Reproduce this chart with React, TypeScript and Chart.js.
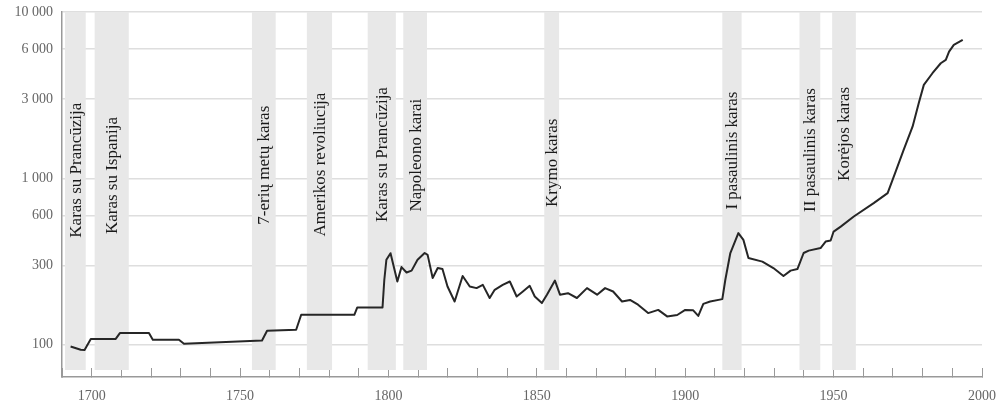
import React, { useEffect, useRef } from 'react';
import { Chart, registerables } from 'chart.js';

Chart.register(...registerables);

// ---- data ----
const years = [
  1692.9, 1696.3, 1697.6, 1699.7, 1708.1, 1709.5, 1719.3, 1720.6, 1729.4, 1731.1,
  1757.4, 1759.1, 1768.9, 1770.6, 1788.5, 1789.5, 1798.0, 1798.6, 1799.3, 1800.7,
  1803.0, 1804.4, 1806.1, 1807.8, 1809.8, 1812.2, 1813.2, 1814.9, 1816.6, 1818.2,
  1819.9, 1822.3, 1825.0, 1827.4, 1829.7, 1831.8, 1834.1, 1835.8, 1838.5, 1840.9,
  1843.2, 1845.3, 1847.6, 1849.3, 1851.7, 1853.4, 1856.1, 1857.8, 1860.5, 1863.5,
  1866.9, 1870.3, 1873.0, 1875.7, 1878.7, 1881.4, 1884.1, 1887.5, 1890.9, 1893.9,
  1897.3, 1900.0, 1902.7, 1904.4, 1906.1, 1908.4, 1912.5, 1913.5, 1915.2, 1917.9,
  1919.6, 1921.3, 1926.0, 1929.7, 1933.1, 1935.5, 1937.8, 1939.9, 1941.6, 1945.6,
  1947.3, 1949.0, 1950.0, 1952.4, 1956.8, 1963.5, 1968.2, 1970.9, 1973.6, 1976.6,
  1978.7, 1980.4, 1983.3, 1986.1, 1987.8, 1988.9, 1990.5, 1993.5,
];
const values = [
  97.7, 93.3, 93, 108.2, 108.4, 117.5, 117.8, 107.2, 107.2, 101.4,
  106.1, 121.3, 123, 151.4, 151.4, 167.5, 167.5, 245, 324, 355,
  240, 293, 272, 279, 324, 356, 347, 252, 289, 285,
  224, 182, 259, 224, 219, 229, 191, 214, 229, 240,
  195, 209, 226, 195, 178, 200, 243, 200, 204, 191,
  219, 200, 219, 209, 182, 186, 174, 155, 162, 148,
  151, 162, 161, 149, 176, 182, 188, 245, 356, 469,
  427, 332, 316, 289, 259, 279, 285, 356, 368, 381,
  417, 423, 479, 513, 590, 710, 815, 1099, 1483, 2046,
  2840, 3648, 4285, 4920, 5150, 5780, 6340, 6790,
];

const yTickValues = [100, 300, 600, 1000, 3000, 6000, 10000];
const xLabelYears = [1700, 1750, 1800, 1850, 1900, 1950, 2000];

const warNames = [
  'Karas su Prancūzija',
  'Karas su Ispanija',
  '7-erių metų karas',
  'Amerikos revoliucija',
  'Karas su Prancūzija',
  'Napoleono karai',
  'Krymo karas',
  'I pasaulinis karas',
  'II pasaulinis karas',
  'Korėjos karas',
];
const warStart = [1691, 1701, 1754, 1772.5, 1793, 1805, 1852.5, 1912.5, 1938.5, 1949.5];
const warEnd = [1698, 1712.5, 1762, 1781, 1802.5, 1813, 1857.5, 1919, 1945.5, 1957.5];
// y-axis value at which each rotated label is centred
const warLabelAt = [1120, 1040, 1200, 1210, 1390, 1380, 1240, 1470, 1480, 1850];

const SERIF = '"Liberation Serif", "Times New Roman", serif';

const fmt = (v: number) => String(v).replace(/\B(?=(\d{3})+(?!\d))/g, ' ');

const warPlugin = {
  id: 'warBands',
  beforeDatasetsDraw(chart: any) {
    const { ctx, chartArea } = chart;
    const xs = chart.scales.x;
    const ys = chart.scales.y;
    ctx.save();
    ctx.fillStyle = '#e8e8e8';
    for (let i = 0; i < warNames.length; i++) {
      const x0 = xs.getPixelForValue(warStart[i]);
      const x1 = xs.getPixelForValue(warEnd[i]);
      ctx.fillRect(x0, chartArea.top, x1 - x0, chartArea.bottom - 7 - chartArea.top);
    }
    ctx.fillStyle = '#1a1a1a';
    ctx.font = `17px ${SERIF}`;
    ctx.textAlign = 'center';
    ctx.textBaseline = 'middle';
    for (let i = 0; i < warNames.length; i++) {
      const x0 = xs.getPixelForValue(warStart[i]);
      const x1 = xs.getPixelForValue(warEnd[i]);
      const cy = ys.getPixelForValue(warLabelAt[i]);
      ctx.save();
      ctx.translate((x0 + x1) / 2 + 1, cy);
      ctx.rotate(-Math.PI / 2);
      ctx.fillText(warNames[i], 0, 0);
      ctx.restore();
    }
    ctx.restore();
  },
};

export default function App() {
  const ref = useRef<HTMLCanvasElement | null>(null);

  useEffect(() => {
    if (!ref.current) return;
    const chart = new Chart(ref.current, {
      type: 'line',
      data: {
        datasets: [
          {
            data: years.map((yr, i) => ({ x: yr, y: values[i] })),
            borderColor: '#262626',
            borderWidth: 2,
            pointRadius: 0,
            tension: 0,
            borderJoinStyle: 'round',
            fill: false,
          },
        ],
      },
      options: {
        animation: false,
        responsive: false,
        maintainAspectRatio: false,
        layout: { padding: { top: 12, right: 19, left: 0, bottom: 0 } },
        plugins: {
          legend: { display: false },
          tooltip: { enabled: false },
          title: { display: false },
        },
        scales: {
          x: {
            type: 'linear',
            min: 1690,
            max: 2000,
            afterFit: (s: any) => {
              s.height = 28;
              s.paddingLeft = 0;
              s.paddingRight = 0;
            },
            grid: {
              display: true,
              drawOnChartArea: false,
              drawTicks: true,
              tickLength: -9,
              color: '#999',
              lineWidth: 1,
            },
            border: { display: true, color: '#999', width: 1.5 },
            ticks: {
              stepSize: 10,
              autoSkip: false,
              maxRotation: 0,
              padding: 20,
              color: '#666',
              font: { family: SERIF, size: 14 },
              callback: (v: any) => (xLabelYears.includes(Number(v)) ? String(v) : ''),
            },
          },
          y: {
            type: 'logarithmic',
            min: 64,
            max: 10000,
            afterFit: (s: any) => {
              s.width = 62;
              s.paddingTop = 0;
              s.paddingBottom = 0;
            },
            afterBuildTicks: (s: any) => {
              s.ticks = yTickValues.map((v) => ({ value: v }));
            },
            grid: {
              display: true,
              drawTicks: false,
              color: '#dedede',
              lineWidth: 1.5,
            },
            border: { display: true, color: '#999', width: 1.5 },
            ticks: {
              padding: 9,
              color: '#666',
              font: { family: SERIF, size: 14 },
              callback: (v: any) => fmt(Number(v)),
            },
          },
        },
      },
      plugins: [warPlugin],
    });
    return () => chart.destroy();
  }, []);

  return (
    <div style={{ position: 'fixed', left: 0, top: 0, width: 1001, height: 405, background: '#fff' }}>
      <canvas ref={ref} width={1001} height={405} style={{ display: 'block' }} />
    </div>
  );
}
